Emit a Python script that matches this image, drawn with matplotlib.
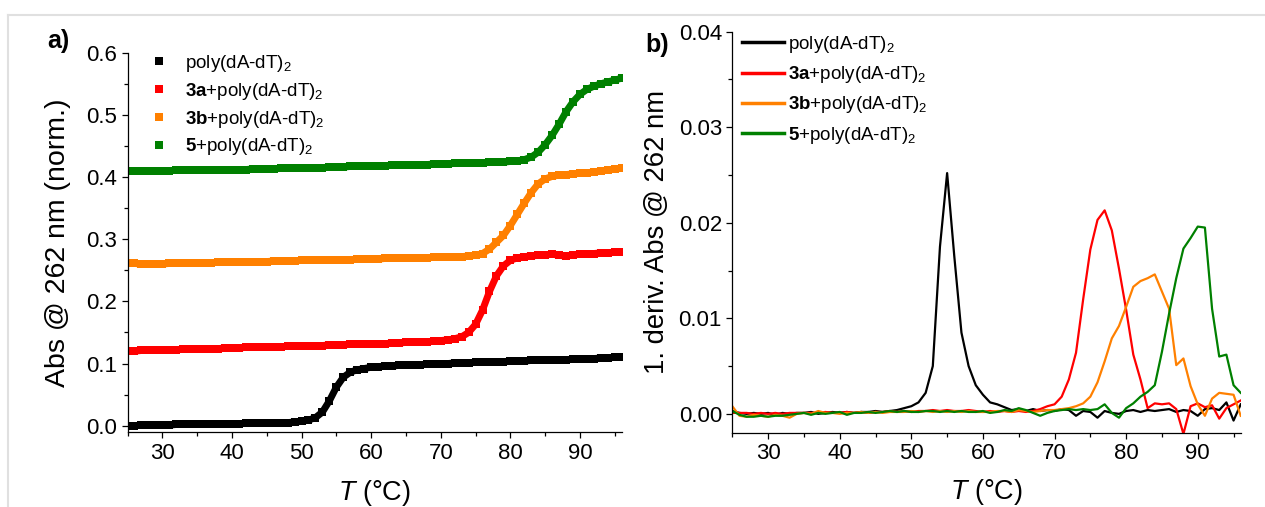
import matplotlib
matplotlib.use("Agg")
import matplotlib.pyplot as plt
from matplotlib.lines import Line2D
from matplotlib.ticker import MultipleLocator, FormatStrFormatter

plt.rcParams["font.family"] = ["Liberation Sans", "DejaVu Sans"]
plt.rcParams["mathtext.fontset"] = "custom"
plt.rcParams["mathtext.rm"] = "Liberation Sans"
plt.rcParams["mathtext.it"] = "Liberation Sans:italic"
plt.rcParams["mathtext.bf"] = "Liberation Sans:bold"

# temperature grid, 1 degree steps
temps = list(range(25, 97))

labels = [
    r"poly(dA-dT)$_2$",
    r"$\mathbf{3a}$+poly(dA-dT)$_2$",
    r"$\mathbf{3b}$+poly(dA-dT)$_2$",
    r"$\mathbf{5}$+poly(dA-dT)$_2$",
]
colors = ["#000000", "#ff0000", "#ff8000", "#008000"]

# melting curves, absorbance at 262 nm (normalised, offset)
abs_dna = [0.000, 0.000, 0.001, 0.001, 0.001, 0.001, 0.001, 0.002, 0.002, 0.002,
           0.002, 0.003, 0.003, 0.003, 0.003, 0.003, 0.003, 0.004, 0.004, 0.004,
           0.004, 0.004, 0.005, 0.005, 0.006, 0.007, 0.009, 0.013, 0.022, 0.040,
           0.062, 0.078, 0.086, 0.090, 0.092, 0.094, 0.095, 0.096, 0.096, 0.097,
           0.097, 0.098, 0.098, 0.099, 0.099, 0.100, 0.100, 0.101, 0.101, 0.101,
           0.102, 0.102, 0.102, 0.103, 0.103, 0.104, 0.104, 0.104, 0.105, 0.105,
           0.105, 0.106, 0.106, 0.106, 0.107, 0.107, 0.108, 0.108, 0.109, 0.109,
           0.110, 0.111]
abs_3a = [0.120, 0.120, 0.121, 0.121, 0.121, 0.122, 0.122, 0.122, 0.123, 0.123,
          0.123, 0.124, 0.124, 0.124, 0.125, 0.125, 0.125, 0.126, 0.126, 0.126,
          0.127, 0.127, 0.127, 0.128, 0.128, 0.128, 0.129, 0.129, 0.129, 0.130,
          0.130, 0.130, 0.131, 0.131, 0.131, 0.132, 0.132, 0.132, 0.133, 0.133,
          0.134, 0.134, 0.135, 0.135, 0.136, 0.137, 0.138, 0.140, 0.143, 0.150,
          0.163, 0.186, 0.216, 0.241, 0.257, 0.266, 0.270, 0.272, 0.273, 0.274,
          0.275, 0.276, 0.274, 0.273, 0.275, 0.276, 0.277, 0.277, 0.278, 0.278,
          0.279, 0.280]
abs_3b = [0.262, 0.261, 0.260, 0.260, 0.260, 0.260, 0.261, 0.261, 0.261, 0.262,
          0.262, 0.262, 0.262, 0.263, 0.263, 0.263, 0.263, 0.264, 0.264, 0.264,
          0.264, 0.265, 0.265, 0.265, 0.265, 0.266, 0.266, 0.266, 0.266, 0.267,
          0.267, 0.267, 0.267, 0.268, 0.268, 0.268, 0.268, 0.269, 0.269, 0.269,
          0.269, 0.270, 0.270, 0.270, 0.271, 0.271, 0.271, 0.272, 0.272, 0.273,
          0.274, 0.277, 0.284, 0.295, 0.306, 0.322, 0.340, 0.358, 0.375, 0.389,
          0.397, 0.401, 0.403, 0.404, 0.405, 0.406, 0.407, 0.408, 0.410, 0.411,
          0.413, 0.414]
abs_5 = [0.410, 0.410, 0.410, 0.410, 0.410, 0.410, 0.410, 0.411, 0.411, 0.411,
         0.411, 0.411, 0.411, 0.412, 0.412, 0.412, 0.412, 0.412, 0.413, 0.413,
         0.413, 0.413, 0.414, 0.414, 0.414, 0.414, 0.415, 0.415, 0.415, 0.416,
         0.416, 0.416, 0.417, 0.417, 0.417, 0.418, 0.418, 0.418, 0.419, 0.419,
         0.419, 0.420, 0.420, 0.420, 0.421, 0.421, 0.421, 0.422, 0.422, 0.422,
         0.423, 0.423, 0.424, 0.424, 0.424, 0.425, 0.426, 0.428, 0.432, 0.440,
         0.452, 0.467, 0.485, 0.505, 0.521, 0.533, 0.541, 0.546, 0.550, 0.553,
         0.556, 0.559]

# first derivative of the melting curves
der_dna = [0.0003, 0.0001, 0.0000, 0.0001, 0.0000, 0.0001, -0.0001, 0.0001, 0.0000, 0.0001,
           0.0001, 0.0002, 0.0000, 0.0001, 0.0002, 0.0001, 0.0002, 0.0001, 0.0002, 0.0002,
           0.0003, 0.0002, 0.0003, 0.0004, 0.0006, 0.0008, 0.0012, 0.0022, 0.0050, 0.0175,
           0.0252, 0.0165, 0.0085, 0.0050, 0.0030, 0.0020, 0.0012, 0.0010, 0.0007, 0.0004,
           0.0005, 0.0003, 0.0005, 0.0003, 0.0004, 0.0003, 0.0005, 0.0004, -0.0002, 0.0003,
           0.0002, -0.0004, 0.0003, 0.0001, 0.0000, 0.0003, 0.0004, 0.0002, 0.0004, 0.0003,
           0.0004, 0.0005, 0.0002, 0.0004, 0.0003, -0.0002, 0.0005, 0.0006, 0.0004, 0.0012,
           -0.0007, 0.0010]
der_3a = [0.0001, 0.0001, 0.0001, 0.0000, 0.0001, 0.0000, 0.0001, 0.0000, 0.0001, 0.0001,
          0.0001, 0.0001, 0.0001, 0.0002, 0.0001, 0.0001, 0.0002, 0.0001, 0.0002, 0.0001,
          0.0002, 0.0002, 0.0003, 0.0002, 0.0003, 0.0002, 0.0003, 0.0003, 0.0004, 0.0003,
          0.0004, 0.0003, 0.0003, 0.0004, 0.0003, 0.0002, 0.0003, 0.0002, 0.0003, 0.0002,
          0.0003, 0.0002, 0.0003, 0.0005, 0.0008, 0.0010, 0.0018, 0.0036, 0.0064, 0.0120,
          0.0172, 0.0203, 0.0213, 0.0192, 0.0152, 0.0109, 0.0062, 0.0036, 0.0006, 0.0011,
          0.0010, 0.0011, 0.0005, -0.0021, 0.0008, 0.0011, 0.0007, 0.0009, -0.0005, 0.0006,
          0.0010, 0.0014]
der_3b = [0.0008, -0.0002, -0.0003, -0.0001, -0.0002, -0.0003, -0.0001, -0.0002, -0.0004, 0.0000,
          0.0001, 0.0000, 0.0003, 0.0001, 0.0001, 0.0000, 0.0001, 0.0001, 0.0002, 0.0001,
          0.0002, 0.0001, 0.0002, 0.0002, 0.0002, 0.0003, 0.0002, 0.0003, 0.0002, 0.0003,
          0.0002, 0.0003, 0.0002, 0.0003, 0.0002, 0.0002, 0.0002, 0.0003, 0.0003, 0.0002,
          0.0004, 0.0003, 0.0002, 0.0003, 0.0004, 0.0004, 0.0005, 0.0006, 0.0008, 0.0011,
          0.0018, 0.0033, 0.0055, 0.0079, 0.0092, 0.0112, 0.0133, 0.0139, 0.0142, 0.0146,
          0.0128, 0.0110, 0.0051, 0.0058, 0.0029, 0.0010, -0.0002, 0.0016, 0.0022, 0.0021,
          0.0020, -0.0002]
der_5 = [0.0003, -0.0001, -0.0003, -0.0003, -0.0002, -0.0003, -0.0002, -0.0002, -0.0001, 0.0000,
         0.0001, -0.0001, 0.0001, 0.0000, 0.0001, 0.0002, -0.0001, 0.0001, 0.0001, 0.0002,
         0.0001, 0.0002, 0.0003, 0.0002, 0.0003, 0.0002, 0.0002, 0.0003, 0.0003, 0.0002,
         0.0003, 0.0002, 0.0003, 0.0002, 0.0002, 0.0003, 0.0001, 0.0002, 0.0004, 0.0003,
         0.0006, 0.0004, 0.0001, -0.0002, 0.0001, 0.0003, 0.0004, 0.0005, 0.0004, 0.0005,
         0.0004, 0.0005, 0.0010, 0.0001, -0.0004, 0.0006, 0.0011, 0.0018, 0.0023, 0.0030,
         0.0065, 0.0105, 0.0142, 0.0173, 0.0184, 0.0196, 0.0195, 0.0110, 0.0060, 0.0062,
         0.0030, 0.0022]

fig = plt.figure(figsize=(12.65, 5.07), dpi=100)

# thin grey frame along the top and left edge
fig.add_artist(Line2D([8 / 1265, 1], [1 - 15 / 507] * 2, color="#e0e0e0", lw=1.5))
fig.add_artist(Line2D([8 / 1265] * 2, [0, 1 - 15 / 507], color="#e0e0e0", lw=1.5))

ax1 = fig.add_axes([0.1008, 0.1473, 0.3907, 0.7488])
ax2 = fig.add_axes([0.5789, 0.1460, 0.4019, 0.7915])

for y, c, lab in zip([abs_dna, abs_3a, abs_3b, abs_5], colors, labels):
    ax1.plot(temps, y, color=c, lw=5, marker="s", ms=5.5, mew=0, label=lab)

for y, c, lab in zip([der_dna, der_3a, der_3b, der_5], colors, labels):
    ax2.plot(temps, y, color=c, lw=1.6, label=lab)

ax1.set_xlim(25, 96)
ax1.set_ylim(-0.0106, 0.6)
ax1.yaxis.set_major_locator(MultipleLocator(0.1))
ax1.yaxis.set_minor_locator(MultipleLocator(0.05))
ax1.yaxis.set_major_formatter(FormatStrFormatter("%.1f"))
ax1.set_ylabel("Abs @ 262 nm (norm.)", fontsize=20.5)

ax2.set_xlim(25, 96)
ax2.set_ylim(-0.002, 0.04)
ax2.yaxis.set_major_locator(MultipleLocator(0.01))
ax2.yaxis.set_minor_locator(MultipleLocator(0.005))
ax2.yaxis.set_major_formatter(FormatStrFormatter("%.2f"))
ax2.set_ylabel("1. deriv. Abs @ 262 nm", fontsize=19.8)

for ax in (ax1, ax2):
    ax.spines["top"].set_visible(False)
    ax.spines["right"].set_visible(False)
    ax.spines["left"].set_linewidth(0.9)
    ax.spines["bottom"].set_linewidth(0.9)
    ax.xaxis.set_major_locator(MultipleLocator(10))
    ax.xaxis.set_minor_locator(MultipleLocator(5))
    ax.tick_params(which="major", direction="out", length=4, width=0.9, labelsize=16)
    ax.tick_params(which="minor", direction="out", length=3, width=0.9)
    ax.set_xlabel("$T$ (°C)", fontsize=19.5)
    ax.xaxis.label.set_va("center")
    ax.yaxis.label.set_va("center")

ax1.xaxis.set_label_coords(0.5, -0.160)
ax1.yaxis.set_label_coords(-0.141, 0.5)
ax2.xaxis.set_label_coords(0.5, -0.148)
ax2.yaxis.set_label_coords(-0.148, 0.5)

leg1 = ax1.legend(loc="upper left", bbox_to_anchor=(0.052, 1.0), frameon=False,
                  fontsize=13.5, handlelength=0.6, handletextpad=1.1,
                  labelspacing=0.37, borderpad=0, borderaxespad=0)
for h in leg1.legend_handles:
    h.set_linestyle("none")
    h.set_markersize(6)

ax2.legend(loc="upper left", bbox_to_anchor=(0.02, 0.995), frameon=False,
           fontsize=13.5, handlelength=2.2, handletextpad=0.25,
           labelspacing=0.5, borderpad=0, borderaxespad=0)
for line in ax2.get_legend().get_lines():
    line.set_linewidth(2.5)

fig.text(58 / 1265, 1 - 41 / 507, "a)", fontsize=18, fontweight="bold",
         ha="center", va="center")
fig.text(657 / 1265, 1 - 45 / 507, "b)", fontsize=18, fontweight="bold",
         ha="center", va="center")

fig.savefig("out.png", dpi=100)
